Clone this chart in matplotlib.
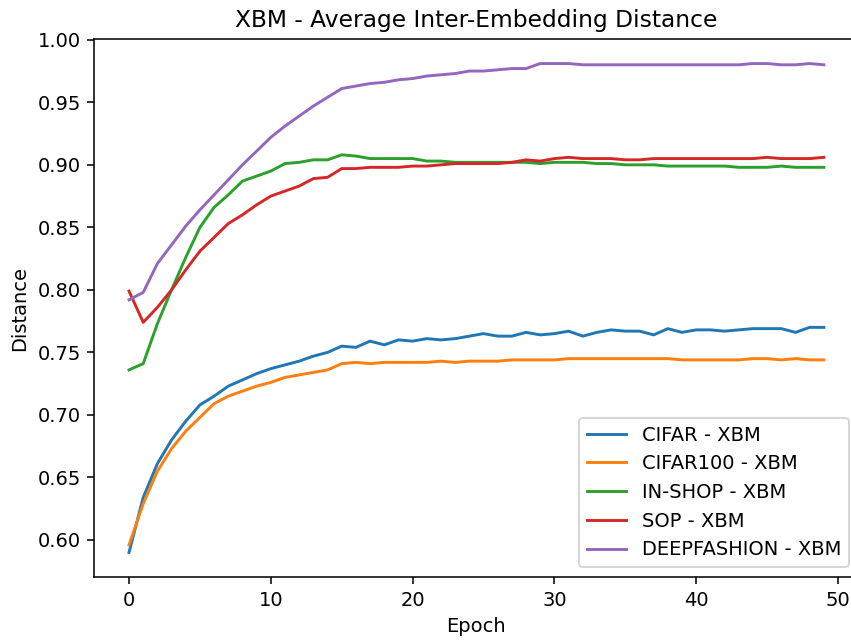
import matplotlib
matplotlib.use("Agg")
import matplotlib.pyplot as plt

epochs = list(range(50))

cifar = [0.590, 0.634, 0.661, 0.680, 0.695, 0.708, 0.715, 0.723, 0.728, 0.733,
         0.737, 0.740, 0.743, 0.747, 0.750, 0.755, 0.754, 0.759, 0.756, 0.760,
         0.759, 0.761, 0.760, 0.761, 0.763, 0.765, 0.763, 0.763, 0.766, 0.764,
         0.765, 0.767, 0.763, 0.766, 0.768, 0.767, 0.767, 0.764, 0.769, 0.766,
         0.768, 0.768, 0.767, 0.768, 0.769, 0.769, 0.769, 0.766, 0.770, 0.770]

cifar100 = [0.596, 0.629, 0.655, 0.673, 0.687, 0.698, 0.709, 0.715, 0.719, 0.723,
            0.726, 0.730, 0.732, 0.734, 0.736, 0.741, 0.742, 0.741, 0.742, 0.742,
            0.742, 0.742, 0.743, 0.742, 0.743, 0.743, 0.743, 0.744, 0.744, 0.744,
            0.744, 0.745, 0.745, 0.745, 0.745, 0.745, 0.745, 0.745, 0.745, 0.744,
            0.744, 0.744, 0.744, 0.744, 0.745, 0.745, 0.744, 0.745, 0.744, 0.744]

inshop = [0.736, 0.741, 0.773, 0.800, 0.826, 0.850, 0.866, 0.876, 0.887, 0.891,
          0.895, 0.901, 0.902, 0.904, 0.904, 0.908, 0.907, 0.905, 0.905, 0.905,
          0.905, 0.903, 0.903, 0.902, 0.902, 0.902, 0.902, 0.902, 0.902, 0.901,
          0.902, 0.902, 0.902, 0.901, 0.901, 0.900, 0.900, 0.900, 0.899, 0.899,
          0.899, 0.899, 0.899, 0.898, 0.898, 0.898, 0.899, 0.898, 0.898, 0.898]

sop = [0.799, 0.774, 0.786, 0.800, 0.816, 0.831, 0.842, 0.853, 0.860, 0.868,
       0.875, 0.879, 0.883, 0.889, 0.890, 0.897, 0.897, 0.898, 0.898, 0.898,
       0.899, 0.899, 0.900, 0.901, 0.901, 0.901, 0.901, 0.902, 0.904, 0.903,
       0.905, 0.906, 0.905, 0.905, 0.905, 0.904, 0.904, 0.905, 0.905, 0.905,
       0.905, 0.905, 0.905, 0.905, 0.905, 0.906, 0.905, 0.905, 0.905, 0.906]

deepfashion = [0.792, 0.798, 0.821, 0.836, 0.851, 0.864, 0.876, 0.888, 0.900, 0.911,
               0.922, 0.931, 0.939, 0.947, 0.954, 0.961, 0.963, 0.965, 0.966, 0.968,
               0.969, 0.971, 0.972, 0.973, 0.975, 0.975, 0.976, 0.977, 0.977, 0.981,
               0.981, 0.981, 0.980, 0.980, 0.980, 0.980, 0.980, 0.980, 0.980, 0.980,
               0.980, 0.980, 0.980, 0.980, 0.981, 0.981, 0.980, 0.980, 0.981, 0.980]

series = [("CIFAR - XBM", cifar), ("CIFAR100 - XBM", cifar100),
          ("IN-SHOP - XBM", inshop), ("SOP - XBM", sop),
          ("DEEPFASHION - XBM", deepfashion)]

dpi = 140
fig, ax = plt.subplots(figsize=(851 / dpi, 641 / dpi), dpi=dpi)
# right edge of the axes is cropped off in the original, so it sits past the figure edge
fig.subplots_adjust(left=0.1108, right=1.0089, top=0.939, bottom=0.1)

for name, vals in series:
    ax.plot(epochs, vals, label=name)

ax.set_title("XBM - Average Inter-Embedding Distance")
ax.set_xlabel("Epoch")
ax.set_ylabel("Distance")
ax.legend(loc="lower right")

fig.savefig("out.png", dpi=dpi)
